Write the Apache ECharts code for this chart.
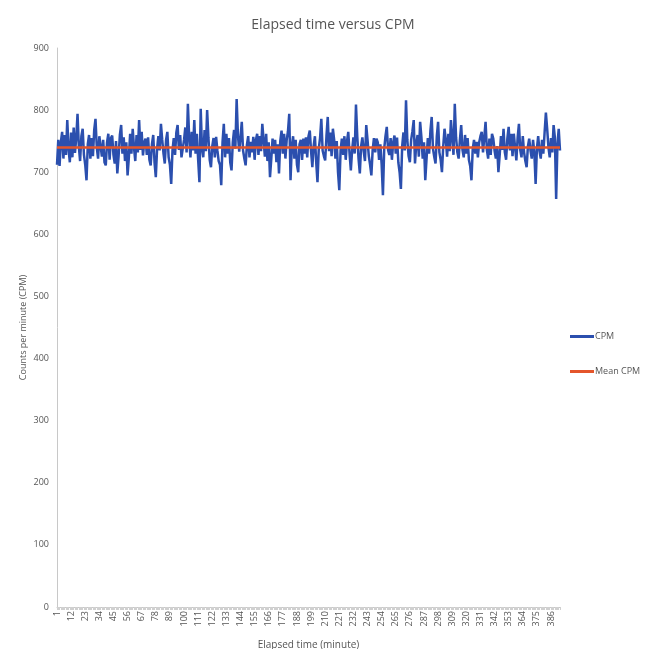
<!DOCTYPE html>
<html>
<head>
<meta charset="utf-8">
<script src="https://cdn.jsdelivr.net/npm/echarts@6/dist/echarts.min.js"></script>
<style>
  html, body { margin: 0; padding: 0; background: #ffffff; }
  #chart { width: 645px; height: 649px; }
</style>
</head>
<body>
<div id="chart"></div>
<script>
// Counts per minute, one reading per elapsed minute
const cpm = [
  712, 752, 710, 748, 765, 722, 760, 728, 784, 738,
  716, 764, 724, 772, 731, 755, 794, 742, 718, 758,
  770, 728, 712, 687, 745, 760, 722, 755, 726, 768,
  786, 740, 722, 758, 759, 725, 752, 716, 711, 748,
  762, 720, 755, 759, 728, 714, 750, 698, 726, 760,
  776, 730, 756, 718, 748, 695, 724, 762, 730, 770,
  740, 718, 760, 732, 784, 736, 765, 727, 748, 754,
  728, 756, 720, 711, 745, 760, 716, 692, 738, 758,
  735, 778, 752, 730, 714, 752, 765, 724, 712, 681,
  735, 755, 728, 764, 776, 736, 760, 724, 722, 752,
  772, 732, 810, 756, 724, 765, 735, 784, 730, 762,
  720, 684, 802, 738, 724, 768, 734, 800, 756, 720,
  708, 742, 755, 724, 757, 735, 718, 712, 679, 748,
  778, 724, 762, 730, 755, 716, 703, 748, 768, 738,
  818, 760, 733, 756, 781, 735, 722, 711, 744, 758,
  724, 749, 732, 757, 720, 752, 762, 728, 758, 734,
  778, 752, 725, 762, 718, 748, 692, 722, 754, 730,
  752, 716, 745, 698, 750, 767, 730, 762, 722, 752,
  766, 794, 687, 742, 758, 722, 752, 712, 700, 745,
  752, 720, 754, 730, 756, 724, 758, 767, 734, 708,
  742, 758, 716, 684, 738, 755, 786, 735, 726, 719,
  758, 789, 734, 764, 726, 770, 752, 722, 750, 700,
  671, 735, 754, 728, 758, 720, 750, 765, 730, 703,
  736, 756, 730, 809, 758, 722, 698, 742, 756, 734,
  718, 776, 752, 726, 712, 695, 736, 755, 732, 754,
  748, 720, 745, 712, 663, 738, 758, 773, 736, 728,
  755, 720, 748, 759, 730, 756, 716, 700, 673, 742,
  764, 735, 816, 752, 726, 716, 752, 766, 784, 714,
  746, 760, 725, 781, 756, 722, 748, 687, 722, 755,
  730, 766, 789, 738, 725, 714, 758, 781, 732, 720,
  700, 742, 770, 752, 725, 762, 734, 784, 756, 728,
  810, 756, 732, 722, 752, 776, 736, 724, 760, 730,
  755, 720, 710, 687, 738, 752, 730, 749, 724, 748,
  758, 765, 732, 756, 781, 736, 722, 754, 728, 762,
  754, 735, 722, 742, 700, 728, 758, 736, 770, 732,
  720, 755, 773, 735, 762, 726, 762, 740, 719, 756,
  778, 736, 724, 758, 732, 718, 708, 742, 754, 735,
  722, 752, 732, 681, 738, 758, 734, 722, 752, 730,
  764, 796, 770, 740, 724, 755, 732, 776, 756, 657,
  745, 770, 735
];

// Mean of the run, drawn as a flat reference line
const meanCpm = 740;

// Elapsed minutes 1..N as category labels
const minutes = cpm.map((_, i) => String(i + 1));
const meanSeries = cpm.map(() => meanCpm);

// Y axis scale
const yMin = 0;
const yMax = 900;
const yStep = 100;

const chart = echarts.init(document.getElementById('chart'));
chart.setOption({
  backgroundColor: '#ffffff',
  animation: false,
  title: {
    text: 'Elapsed time versus CPM',
    left: 328,
    top: 13,
    textAlign: 'center',
    textStyle: { fontFamily: 'Open Sans', fontSize: 14, fontWeight: 'normal', color: '#555555' }
  },
  legend: {
    orient: 'vertical',
    left: 565,
    top: 327,
    itemGap: 26,
    itemWidth: 24,
    itemHeight: 3,
    icon: 'rect',
    textStyle: { fontFamily: 'Open Sans', fontSize: 9, color: '#555555', padding: [0, 0, 0, -4] },
    data: ['CPM', 'Mean CPM']
  },
  grid: { left: 57, right: 85, top: 48, bottom: 42, containLabel: false, outerBoundsMode: 'none' },
  xAxis: {
    type: 'category',
    data: minutes,
    boundaryGap: false,
    name: 'Elapsed time (minute)',
    nameLocation: 'middle',
    nameGap: 33,
    nameMoveOverlap: false,
    nameTextStyle: { fontFamily: 'Open Sans', fontSize: 10, color: '#555555' },
    axisLine: { lineStyle: { color: '#c8c8c8', width: 1 } },
    axisTick: { show: true, interval: 0, length: 3, lineStyle: { color: '#d0d0d0' } },
    axisLabel: {
      interval: 10,
      rotate: 90,
      fontFamily: 'Open Sans',
      fontSize: 9,
      color: '#555555',
      margin: 4
    },
    splitLine: { show: false }
  },
  yAxis: {
    type: 'value',
    min: yMin,
    max: yMax,
    interval: yStep,
    name: 'Counts per minute (CPM)',
    nameLocation: 'middle',
    nameGap: 29,
    nameMoveOverlap: false,
    nameRotate: 90,
    nameTextStyle: { fontFamily: 'Open Sans', fontSize: 9, color: '#555555' },
    axisLine: { show: true, lineStyle: { color: '#c8c8c8', width: 1 } },
    axisTick: { show: false },
    axisLabel: { fontFamily: 'Open Sans', fontSize: 9, color: '#555555', margin: 8 },
    splitLine: { show: false }
  },
  series: [
    {
      name: 'CPM',
      type: 'line',
      data: cpm,
      showSymbol: false,
      lineStyle: { color: '#2b4fae', width: 2.5 },
      itemStyle: { color: '#2b4fae' },
      z: 2
    },
    {
      name: 'Mean CPM',
      type: 'line',
      data: meanSeries,
      showSymbol: false,
      lineStyle: { color: '#e4552b', width: 2.5 },
      itemStyle: { color: '#e4552b' },
      z: 3
    }
  ]
});
</script>
</body>
</html>
